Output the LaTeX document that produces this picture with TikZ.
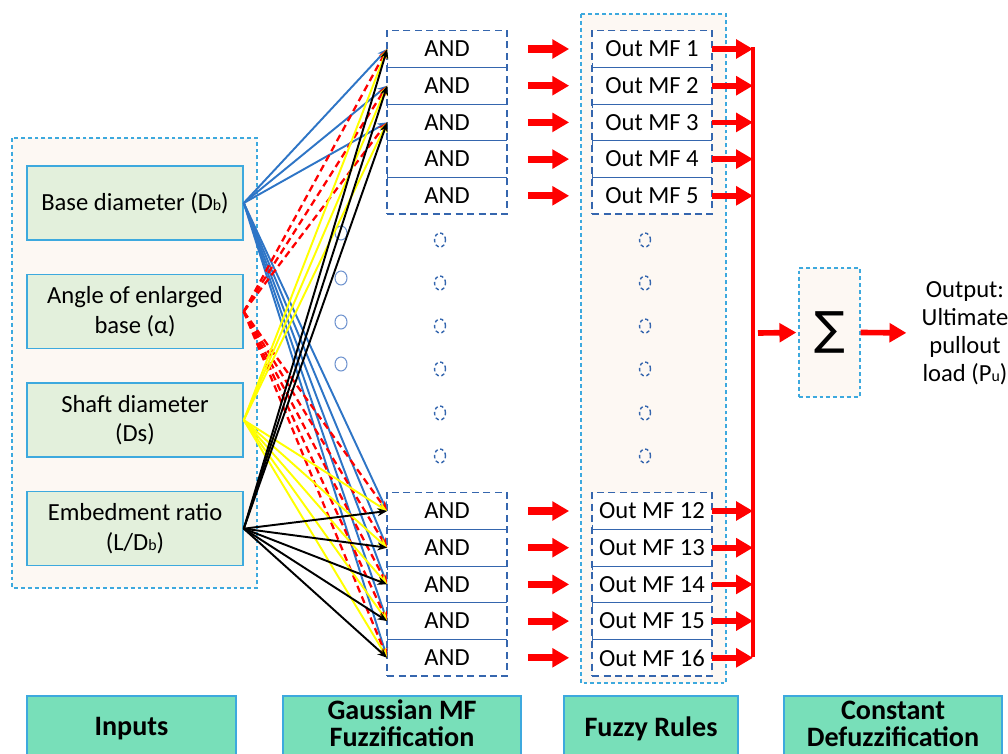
\documentclass[tikz,border=0pt]{standalone}
\usepackage{fontspec}
\setmainfont{Carlito}
\newfontfamily\sigmafont{DejaVu Sans}
\usepackage{tikz}
\usetikzlibrary{positioning,arrows.meta,calc,fit}
\definecolor{cyanline}{HTML}{3DA9DE}
\definecolor{andline}{HTML}{3566AE}
\definecolor{inbg}{HTML}{E3F0DC}
\definecolor{creambg}{HTML}{FDF8F3}
\definecolor{linkblue}{HTML}{2E75C6}
\definecolor{linkyellow}{HTML}{FFFF00}
\definecolor{linkred}{HTML}{FF0000}
\definecolor{ringblue}{HTML}{7094CF}
\definecolor{stagebg}{HTML}{78DFB9}
\newcommand{\smallsub}[1]{{\fontsize{9}{9}\selectfont #1}}

\begin{document}
\begin{tikzpicture}[
    x=0.02cm, y=-0.02cm,
    inbox/.style={draw=cyanline, line width=0.9pt, fill=inbg, minimum width=4.32cm, minimum height=1.48cm, align=center, font=\fontsize{14}{17}\selectfont},
    rulecell/.style={fill=white, minimum width=2.38cm, minimum height=0.72cm, inner sep=0pt, font=\fontsize{14}{16}\selectfont},
    groupframe/.style={draw=andline, dash pattern=on 4pt off 2.5pt, line width=0.8pt, inner sep=0pt},
    rowsep/.style={draw=andline, line width=0.5pt, {Bar[width=5pt]}-},
    panel/.style={draw=cyanline, dash pattern=on 2.2pt off 1.7pt, line width=0.8pt, fill=creambg},
    link/.style={line width=1.1pt, -{Stealth[length=5.5pt,width=4.5pt]}},
    bluelink/.style={link, draw=linkblue},
    redlink/.style={link, draw=linkred, line width=1.3pt, dash pattern=on 4pt off 2.5pt},
    yellowlink/.style={link, draw=linkyellow},
    blacklink/.style={link, draw=black},
    fat/.style={draw=linkred, line width=4pt, -{Triangle[length=9.6pt,width=10.5pt]}},
    feed/.style={draw=linkred, line width=3.2pt, -{Triangle[length=9.6pt,width=10.5pt]}},
    gapdot/.style={draw=andline, line width=0.8pt, dash pattern=on 2pt off 1.5pt},
    ring/.style={draw=ringblue, line width=0.6pt},
    stage/.style={draw=cyanline, line width=0.8pt, fill=stagebg, align=center, minimum height=1.32cm, font=\bfseries\fontsize{16}{15.5}\selectfont}
]
    \clip (0,0) rectangle (1008,754);

    % background panels
    \draw[panel] (12,138) rectangle (257,588);
    \draw[panel] (581,14) rectangle (726,683);

    % inputs
    \node[inbox] (db) at (135,203) {Base diameter (D\smallsub{b})};
    \node[inbox, below=0.66cm of db] (alpha) {Angle of enlarged\\base (α)};
    \node[inbox, below=0.66cm of alpha] (ds) {Shaft diameter\\(Ds)};
    \node[inbox, below=0.66cm of ds] (ldb) {Embedment ratio\\(L/D\smallsub{b})};

    % AND and Out MF columns
    \node[rulecell] (a1) at (447,49) {AND};
    \node[rulecell] (o1) at (652,49) {Out MF 1};
    \foreach \i [remember=\i as \prev (initially 1)] in {2,...,5} {
        \node[rulecell, below=0pt of a\prev] (a\i) {AND};
        \node[rulecell, below=0pt of o\prev] (o\i) {Out MF \i};
    }
    \node[rulecell] (a12) at (447,511) {AND};
    \node[rulecell] (o12) at (652,511) {Out MF 12};
    \foreach \i [remember=\i as \prev (initially 12)] in {13,...,16} {
        \node[rulecell, below=0pt of a\prev] (a\i) {AND};
        \node[rulecell, below=0pt of o\prev] (o\i) {Out MF \i};
    }
    \foreach \c in {a,o} {
        \node[groupframe, fit=(\c1)(\c5)] {};
        \node[groupframe, fit=(\c12)(\c16)] {};
        \foreach \i in {1,2,3,4,12,13,14,15}
            \draw[rowsep] (\c\i.south west) -- (\c\i.south east);
    }

    % omitted rules
    \foreach \y in {233,278,322,364}
        \draw[ring] (341,\y) ellipse [x radius=0.12cm, y radius=0.14cm];
    \foreach \y in {240,283,326,369,413,456} {
        \draw[gapdot] (440,\y) ellipse [x radius=0.11cm, y radius=0.14cm];
        \draw[gapdot] (645,\y) ellipse [x radius=0.11cm, y radius=0.14cm];
    }

    % membership links
    \foreach \src/\sty in {db/bluelink, alpha/redlink, ds/yellowlink, ldb/blacklink}
        \foreach \dst in {1,2,3,12,13,14,15,16}
            \draw[\sty] (\src.east) -- (a\dst.west);

    % defuzzification
    \coordinate (bustop) at (753,47);
    \coordinate (busbot) at (753,657);
    \coordinate (busout) at (758,333);
    \node[draw=cyanline, dash pattern=on 2.2pt off 1.7pt, line width=0.8pt, fill=creambg, minimum width=1.22cm, minimum height=2.58cm] (sigma) at (829.5,332.5) {\sigmafont\fontsize{26}{26}\selectfont ∑};
    \node[align=center, inner sep=0pt, font=\fontsize{14}{15.9}\selectfont] (out) at (965,333) {Output:\\Ultimate\\pullout\\load (P\smallsub{u})};

    \foreach \i in {1,...,5,12,13,...,16} {
        \draw[fat, shorten <=0.42cm, shorten >=0.46cm] (a\i) -- (o\i);
        \draw[feed] (o\i.east) -- (o\i.east -| bustop);
    }
    \draw[draw=linkred, line width=2.8pt] (bustop) -- (busbot);
    \draw[feed, shorten >=0.04cm] (busout) -- (sigma.west);
    \draw[feed, shorten >=0.3cm] (sigma.east) -- (out.west);

    % stage labels
    \node[stage, minimum width=4.18cm] (inputs) at (131.5,729) {Inputs};
    \node[stage, minimum width=4.76cm, minimum height=1.48cm, text height=16pt] (fuzzif) at (402,733) {Gaussian MF\\Fuzzification};
    \node[stage, minimum width=3.48cm] (rules) at (651,729) {Fuzzy Rules};
    \node[stage, minimum width=4.36cm, minimum height=1.48cm, text height=16pt] (defuzz) at (893,733) {Constant\\Defuzzification};
\end{tikzpicture}
\end{document}
